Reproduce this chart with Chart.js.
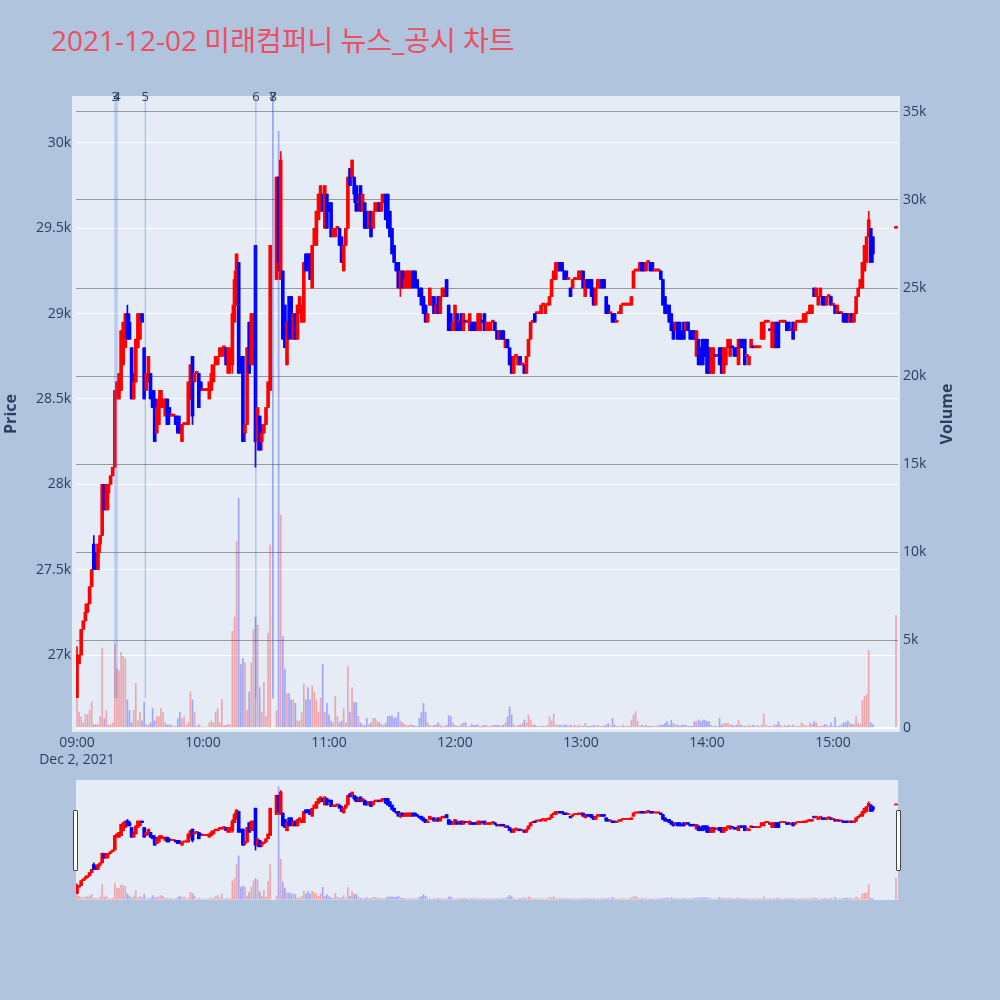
<!DOCTYPE html>
<html><head><meta charset="utf-8">
<script src="https://cdn.jsdelivr.net/npm/chart.js"></script>
<style>
html,body{margin:0;padding:0;background:#B0C4DE;width:1000px;height:1000px;overflow:hidden;font-family:"Open Sans","Noto Sans CJK KR",sans-serif;}
#title{position:absolute;left:51px;top:26px;font-size:28px;line-height:28px;color:rgb(236,78,98);white-space:nowrap;}
#main{position:absolute;left:0;top:0;}
#slider{position:absolute;left:76px;top:780px;background:#E5ECF6;}
.axt{position:absolute;width:120px;height:20px;line-height:20px;text-align:center;font-weight:bold;font-size:16px;color:#2a3f5f;transform:rotate(-90deg);}
.grab{position:absolute;width:3px;height:59px;background:#fff;border:1px solid #444;border-radius:1px;}
</style></head>
<body>
<div id="title">2021-12-02 미래컴퍼니 뉴스_공시 차트</div>
<canvas id="main" width="1000" height="770"></canvas>
<canvas id="slider" width="822" height="120"></canvas>
<div class="axt" style="left:-50px;top:404px;">Price</div>
<div class="axt" style="left:886px;top:404px;">Volume</div>
<div class="grab" style="left:73px;top:810px;"></div>
<div class="grab" style="left:896px;top:810px;"></div>
<script>
// ---- data: one entry per minute after 09:00 (index = minutes since 09:00) ----
const hourLabels = ['09:00','10:00','11:00','12:00','13:00','14:00','15:00'];
const dateLabel = 'Dec 2, 2021';
const priceTicks = [27000,27500,28000,28500,29000,29500,30000];
const volumeTicks = [0,5000,10000,15000,20000,25000,30000,35000];
const newsLabels = ['3','4','5','6','7','8'];
const newsMinutes = [18.2,19.0,32.5,85.2,93.2,93.4];

const opens = [
26750,26950,27000,27150,27200,27250,27300,27400,27650,27600,
27500,27650,27700,28000,27850,27950,28000,28050,28100,28500,
28500,28550,28700,28800,29000,28950,28800,28500,28600,28800,
28850,29000,28800,28550,28600,28650,28550,28500,28300,28350,
28450,28450,28400,28500,28450,28400,28400,28400,28400,28350,
28250,28350,28350,28350,28500,28750,28600,28650,28650,28600,
28550,28550,28550,28500,28550,28600,28700,28700,28750,28750,
28800,28800,28650,28700,28700,28950,29100,29300,28750,28750,
28300,28350,28950,28700,28700,29400,28250,28400,28250,28300,
28350,28450,28550,null,null,29200,29800,29200,29250,29050,
28700,29100,29100,28850,29000,28850,29000,28950,28950,29350,
29350,29350,29150,29400,29400,29550,29600,29700,29500,29700,
29650,29650,29450,29450,29500,29500,29450,29250,29400,29500,
29850,29800,29800,29750,29650,29750,29600,29650,29600,29500,
29600,29500,29600,29600,29650,29600,29650,29700,29700,29600,
29500,29400,29300,29300,29150,29250,29150,29150,29150,29150,
29250,29250,29200,29150,29150,29100,29050,28950,29050,29050,
29100,29000,29100,29000,29100,29100,29200,29050,29000,28900,
28900,29000,28950,29000,28900,28950,28950,28900,28950,28950,
28950,28900,28900,28950,29000,28900,28900,28900,28950,28950,
28900,28850,28900,28900,28800,28850,28800,28750,28650,28750,
28700,28750,28700,28700,28650,28750,28850,28950,29000,29000,
29000,29000,29050,29000,29050,29050,29100,29200,29200,29250,
29300,29300,29250,29250,29200,29150,29150,29200,29200,29200,
29200,29250,29100,29200,29200,29200,29150,29050,29150,29150,
29200,29200,29100,29050,29000,29000,29000,28950,29000,29000,
29050,29050,29050,29050,29050,29150,29250,29250,29250,29300,
29300,29250,29300,29300,29300,29250,29250,29250,29250,29200,
29100,29050,29050,29000,28950,28900,28950,28950,28900,28950,
28900,28950,28900,28900,28900,28750,28850,28800,28850,28850,
28850,28800,28650,28650,28750,28750,28800,28800,28650,28700,
28800,28750,28800,28800,28800,28700,28850,28850,28850,28750,
28700,28800,28800,28800,28800,28800,28850,28850,28950,28950,
28900,28800,28800,28950,28950,28950,28950,28950,28950,28950,
28900,28950,28900,28950,28950,28950,28950,28950,29000,29000,
29000,29150,29100,29050,29100,29100,29100,29050,29100,29100,
29050,29050,29000,29000,29000,29000,29000,29000,28950,29000,
28950,29000,29100,29150,29150,29250,29300,29450,29500,29450,
null,null,null,null,null,null,null,null,null,null,
29500];
const highs = [
27050,27000,27150,27200,27300,27300,27400,27500,27700,27600,
27650,27700,28000,28000,28000,28000,28050,28100,28550,28600,
28650,28900,28950,29000,29050,29000,28800,28650,28850,29000,
29000,29000,28800,28650,28750,28650,28550,28550,28500,28550,
28550,28500,28500,28500,28450,28400,28400,28400,28400,28400,
28350,28350,28350,28600,28700,28750,28650,28650,28650,28600,
28550,28550,28550,28600,28700,28700,28750,28750,28800,28800,
28800,28800,28800,28800,29050,29250,29350,29300,28750,28750,
28350,28800,28950,29000,29000,29400,28450,28400,28350,28350,
28450,28600,29400,null,null,29800,29800,29950,29250,29050,
28950,29100,29100,29000,29000,29050,29100,29050,29300,29350,
29350,29350,29400,29500,29600,29700,29750,29700,29750,29700,
29650,29650,29500,29500,29500,29500,29450,29400,29500,29800,
29850,29900,29800,29750,29700,29750,29700,29650,29600,29600,
29600,29600,29650,29650,29650,29700,29700,29700,29700,29600,
29500,29400,29300,29300,29250,29250,29250,29250,29250,29250,
29250,29250,29200,29150,29150,29100,29050,29000,29150,29100,
29100,29050,29100,29100,29150,29150,29200,29050,29000,28950,
29050,29000,28950,29000,29000,28950,28950,29000,28950,28950,
28950,29000,29000,28950,29000,28950,28950,28950,28950,28950,
28900,28900,28900,28900,28850,28850,28800,28750,28750,28750,
28750,28750,28700,28700,28750,28850,28950,28950,29000,29000,
29000,29050,29050,29050,29050,29100,29200,29250,29300,29300,
29300,29300,29250,29250,29200,29150,29200,29200,29200,29250,
29250,29250,29200,29200,29200,29200,29150,29150,29200,29200,
29200,29200,29100,29050,29000,29000,29000,28950,29000,29050,
29050,29050,29050,29050,29100,29250,29250,29250,29300,29300,
29300,29300,29300,29300,29300,29250,29250,29250,29250,29200,
29100,29050,29050,29000,28950,28950,28950,28950,28900,28950,
28950,28950,28900,28900,28900,28900,28850,28800,28850,28850,
28850,28800,28800,28800,28750,28750,28800,28800,28800,28800,
28850,28850,28800,28800,28800,28850,28850,28850,28850,28750,
28750,28850,28800,28800,28800,28800,28950,28950,28950,28950,
28900,28950,28950,28950,28950,28950,28950,28950,28950,28950,
28900,28950,28950,28950,28950,28950,29000,29000,29000,29050,
29050,29150,29150,29100,29150,29100,29100,29100,29100,29100,
29050,29050,29050,29000,29000,29000,29000,29000,29000,29000,
29000,29100,29150,29200,29300,29400,29450,29600,29500,29450,
null,null,null,null,null,null,null,null,null,null,
29500];
const lows = [
26750,26950,27000,27150,27200,27250,27300,27400,27500,27500,
27500,27600,27700,27850,27850,27850,28000,28050,28100,28500,
28500,28550,28700,28800,28850,28850,28500,28500,28600,28800,
28850,28950,28500,28550,28600,28500,28450,28250,28300,28350,
28450,28450,28400,28350,28350,28400,28400,28350,28300,28300,
28250,28350,28350,28350,28500,28350,28600,28650,28450,28550,
28550,28550,28550,28500,28550,28600,28700,28700,28750,28750,
28750,28700,28650,28650,28650,28950,29050,28650,28650,28250,
28250,28350,28650,28700,28700,28100,28200,28200,28200,28300,
28350,28450,28550,null,null,29200,29250,29200,28850,28800,
28700,28850,28850,28850,28850,28850,29000,28950,28950,29250,
29250,29200,29150,29400,29400,29550,29600,29600,29500,29500,
29600,29450,29450,29450,29500,29400,29300,29250,29400,29500,
29750,29800,29650,29600,29600,29600,29600,29500,29500,29500,
29450,29500,29600,29600,29600,29600,29650,29550,29500,29450,
29350,29300,29250,29150,29100,29150,29150,29150,29150,29150,
29150,29150,29150,29100,29050,29000,28950,28950,29050,29050,
29000,29000,29000,29000,29100,29100,29100,28900,28900,28900,
28900,28900,28900,28900,28900,28950,28950,28900,28900,28900,
28900,28900,28900,28950,28900,28900,28900,28900,28950,28900,
28850,28850,28850,28850,28800,28800,28700,28650,28650,28750,
28700,28700,28700,28650,28650,28750,28850,28950,28950,29000,
29000,29000,29050,29000,29050,29050,29100,29200,29200,29250,
29250,29250,29200,29200,29200,29100,29150,29200,29200,29200,
29200,29150,29100,29150,29150,29100,29050,29050,29150,29150,
29150,29150,29000,29000,29000,28950,28950,28950,29000,29000,
29050,29050,29050,29050,29050,29150,29250,29250,29250,29250,
29250,29250,29300,29250,29250,29250,29250,29250,29200,29050,
29000,29000,28950,28900,28850,28900,28850,28850,28850,28850,
28900,28900,28850,28850,28850,28750,28700,28700,28700,28750,
28650,28650,28650,28650,28750,28750,28700,28650,28650,28700,
28800,28750,28800,28750,28750,28700,28800,28800,28700,28750,
28700,28800,28800,28800,28800,28800,28850,28850,28950,28950,
28900,28800,28800,28800,28800,28950,28950,28950,28900,28900,
28900,28850,28900,28950,28950,28950,28950,28950,29000,29000,
29000,29100,29100,29050,29100,29050,29050,29050,29100,29050,
29050,29000,29000,29000,29000,28950,28950,28950,28950,28950,
28950,29000,29100,29150,29150,29250,29300,29450,29300,29300,
null,null,null,null,null,null,null,null,null,null,
29500];
const closes = [
27000,27000,27150,27200,27250,27300,27400,27500,27500,27500,
27650,27700,28000,27850,28000,28000,28050,28100,28550,28600,
28650,28900,28950,29000,28850,28850,28500,28600,28850,29000,
29000,28950,28500,28650,28750,28500,28450,28250,28450,28500,
28550,28500,28500,28350,28400,28400,28400,28350,28300,28300,
28350,28350,28350,28600,28700,28400,28650,28650,28450,28550,
28550,28550,28550,28600,28650,28700,28750,28750,28800,28800,
28800,28700,28800,28750,29000,29200,29350,28650,28700,28250,
28350,28800,28650,29000,29000,28250,28450,28200,28300,28350,
28450,28600,29400,null,null,29800,29300,29900,28850,28800,
28950,28850,28900,29000,28850,29050,29100,29050,29300,29250,
29300,29200,29400,29500,29600,29700,29750,29600,29750,29500,
29600,29450,29500,29500,29500,29400,29300,29400,29500,29800,
29750,29900,29700,29600,29650,29600,29700,29500,29500,29600,
29450,29600,29650,29650,29600,29650,29700,29550,29500,29450,
29350,29300,29250,29150,29250,29150,29200,29250,29250,29250,
29150,29200,29150,29100,29050,29000,28950,29000,29150,29100,
29000,29050,29000,29100,29150,29150,29100,28900,28900,28950,
29050,28900,28950,28900,29000,28950,28950,29000,28900,28900,
28900,29000,29000,28950,28900,28950,28950,28950,28950,28900,
28850,28900,28850,28850,28850,28800,28700,28650,28750,28750,
28750,28700,28700,28650,28750,28850,28950,28950,28950,29000,
29000,29050,29050,29050,29050,29100,29200,29250,29300,29300,
29250,29250,29200,29200,29200,29100,29200,29200,29200,29250,
29250,29150,29200,29150,29150,29100,29050,29150,29200,29200,
29150,29150,29000,29000,29000,28950,28950,28950,29000,29050,
29050,29050,29050,29050,29100,29250,29250,29250,29300,29250,
29250,29300,29300,29250,29250,29250,29250,29250,29200,29050,
29000,29000,28950,28900,28850,28950,28850,28850,28850,28850,
28950,28900,28850,28850,28850,28900,28700,28700,28700,28750,
28650,28650,28800,28800,28750,28750,28700,28650,28800,28800,
28850,28850,28800,28750,28750,28850,28800,28800,28700,28750,
28750,28850,28800,28800,28800,28800,28950,28950,28950,28950,
28900,28950,28950,28800,28800,28950,28950,28950,28900,28900,
28900,28850,28950,28950,28950,28950,29000,29000,29000,29050,
29050,29100,29150,29100,29150,29050,29050,29100,29100,29050,
29050,29000,29050,29000,29000,28950,28950,28950,29000,28950,
29000,29100,29150,29200,29300,29400,29450,29550,29300,29350,
null,null,null,null,null,null,null,null,null,null,
29500];
const volumes = [
1700,900,650,300,770,770,1000,1480,180,180,
200,650,4540,530,1000,180,180,300,4770,3360,
3250,4300,4070,3950,1600,1000,300,1000,2530,410,
890,410,1480,180,180,300,1120,410,650,650,
1120,890,300,180,180,180,60,100,530,890,
530,650,180,300,2060,1600,890,100,180,60,
50,50,60,300,400,300,900,1100,300,1600,
150,150,200,200,5500,6300,10600,13050,3600,3950,
3700,1000,2050,3700,5600,6300,5850,2300,900,2600,
650,5400,10400,null,null,1000,33900,12100,5200,3350,
1950,1950,1600,1600,1400,400,400,900,2500,1600,
2300,1600,2400,2050,1600,900,1700,3600,900,1400,
750,400,300,1800,650,300,400,1100,300,3500,
900,2300,1450,1450,660,300,200,150,550,200,
300,550,550,400,300,200,150,300,660,660,
700,550,600,900,400,300,200,150,150,200,
150,100,100,550,900,1400,900,300,150,100,
150,200,300,150,100,100,150,700,660,300,
150,100,100,200,300,300,100,100,200,150,
150,200,100,100,150,150,100,100,150,150,
150,170,100,170,300,640,1200,740,200,100,
150,170,260,450,300,740,450,170,170,100,
100,100,100,100,150,640,400,800,170,170,
170,100,170,170,100,170,100,170,100,170,
100,100,260,100,100,100,170,100,170,100,
100,100,170,260,100,550,170,100,100,100,
170,100,100,100,450,740,930,400,100,170,
100,170,100,100,100,100,100,170,170,170,
260,360,170,450,260,170,170,100,170,170,
170,100,100,100,360,360,450,360,450,450,
360,360,170,100,100,100,550,170,260,260,
260,170,170,100,170,450,170,100,100,100,
170,100,170,100,170,100,170,800,170,100,
100,100,170,170,360,170,100,170,100,170,
100,170,100,100,100,300,200,100,100,300,
200,370,300,100,100,100,200,200,100,300,
100,600,100,100,200,300,300,400,300,200,
200,650,300,200,1570,1780,1900,4400,300,200,
null,null,null,null,null,null,null,null,null,null,
6400];

// ---- styles ----
const FONT = '"Open Sans", "Noto Sans CJK KR", sans-serif';
const TXT = '#2a3f5f';
const UP = 'rgb(255,0,0)', DOWN = 'rgb(0,0,255)';
const UPV = 'rgba(255,0,0,0.3)', DOWNV = 'rgba(0,0,255,0.3)';
const newsColors = ['rgba(70,110,230,0.2)','rgba(70,110,230,0.2)','rgba(40,80,220,0.38)','rgba(40,80,220,0.38)','rgba(40,80,220,0.4)','rgba(40,80,220,0.4)'];
const newsWidths = [2.5,2.5,1,1,1,1];
const PRICE_RANGE = [26549, 30275];
const VOL_RANGE = [-227, 35909];
const X_RANGE = [-0.476, 390.95];

function isUp(i){
  const o = opens[i], c = closes[i];
  if (c > o) return true;
  if (c < o) return false;
  for (let j = i - 1; j >= 0; j--) if (closes[j] != null) return c >= closes[j];
  return true;
}
const bodyPts = [], wickPts = [], volPts = [], cCols = [], vCols = [];
for (let i = 0; i < opens.length; i++) {
  if (opens[i] == null) continue;
  const up = isUp(i);
  bodyPts.push({x: i, y: [opens[i], closes[i]]});
  wickPts.push({x: i, y: [lows[i], highs[i]]});
  volPts.push({x: i, y: volumes[i]});
  cCols.push(up ? UP : DOWN);
  vCols.push(up ? UPV : DOWNV);
}
function makeSets(bodyW, wickW, volW, minLen){
  return [
    {data: bodyPts, backgroundColor: cCols, barThickness: bodyW, minBarLength: minLen, grouped: false, yAxisID: 'y', order: 1},
    {data: wickPts, backgroundColor: cCols, barThickness: wickW, minBarLength: 1, grouped: false, yAxisID: 'y', order: 2},
    {data: volPts, backgroundColor: vCols, barThickness: volW, grouped: false, yAxisID: 'yv', order: 3}
  ];
}

const bgPlugin = {
  id: 'bg',
  beforeDraw(chart){
    const {ctx, chartArea: a} = chart;
    ctx.save();
    ctx.fillStyle = '#E5ECF6';
    ctx.fillRect(a.left - 4, a.top, a.right - a.left + 6, a.bottom - a.top);
    ctx.restore();
  }
};
const newsPlugin = {
  id: 'news',
  afterDatasetsDraw(chart){
    const {ctx, chartArea: a} = chart;
    const xs = chart.scales.x;
    ctx.save();
    newsMinutes.forEach((m, k) => {
      const px = xs.getPixelForValue(m);
      ctx.strokeStyle = newsColors[k];
      ctx.lineWidth = newsWidths[k];
      ctx.beginPath();
      ctx.moveTo(px, a.top);
      ctx.lineTo(px, a.bottom - 0.053 * (a.bottom - a.top));
      ctx.stroke();
    });
    ctx.fillStyle = TXT;
    ctx.font = '13px ' + FONT;
    ctx.textAlign = 'center';
    ctx.textBaseline = 'middle';
    newsMinutes.forEach((m, k) => ctx.fillText(newsLabels[k], xs.getPixelForValue(m), a.top + 1));
    ctx.restore();
  }
};

const tickFont = {family: FONT, size: 14};
new Chart(document.getElementById('main'), {
  type: 'bar',
  data: {datasets: makeSets(3, 1, 1, 2)},
  options: {
    responsive: false, animation: false, devicePixelRatio: 1,
    layout: {padding: {top: 96, left: 0, right: 0, bottom: 0}},
    plugins: {legend: {display: false}, tooltip: {enabled: false}},
    scales: {
      x: {
        type: 'linear', min: X_RANGE[0], max: X_RANGE[1], offset: false,
        grid: {display: false, drawTicks: false, offset: false}, border: {display: false},
        afterBuildTicks: s => { s.ticks = hourLabels.map((_, k) => ({value: k * 60})); },
        ticks: {
          autoSkip: false, maxRotation: 0, padding: 3, color: TXT, font: tickFont,
          callback: (v, idx) => idx === 0 ? [hourLabels[0], dateLabel] : hourLabels[idx]
        },
        afterFit: s => { s.height = 38; }
      },
      y: {
        type: 'linear', position: 'left', min: PRICE_RANGE[0], max: PRICE_RANGE[1],
        afterBuildTicks: s => { s.ticks = priceTicks.map(v => ({value: v})); },
        ticks: {padding: 5, color: TXT, font: tickFont, callback: v => (v / 1000) + 'k'},
        grid: {color: '#ffffff', lineWidth: 1, drawTicks: false}, border: {display: false},
        afterFit: s => { s.width = 76; }
      },
      yv: {
        type: 'linear', position: 'right', min: VOL_RANGE[0], max: VOL_RANGE[1],
        afterBuildTicks: s => { s.ticks = volumeTicks.map(v => ({value: v})); },
        ticks: {padding: 5, color: TXT, font: tickFont, callback: v => v === 0 ? '0' : (v / 1000) + 'k'},
        grid: {
          color: c => (c.tick && c.tick.value === 0) ? '#ffffff' : '#999999',
          lineWidth: c => (c.tick && c.tick.value === 0) ? 2 : 1,
          drawTicks: false
        },
        border: {display: false},
        afterFit: s => { s.width = 102; }
      }
    }
  },
  plugins: [bgPlugin, newsPlugin]
});

new Chart(document.getElementById('slider'), {
  type: 'bar',
  data: {datasets: makeSets(3, 1, 1, 1)},
  options: {
    responsive: false, animation: false, devicePixelRatio: 1,
    layout: {padding: 0},
    plugins: {legend: {display: false}, tooltip: {enabled: false}},
    scales: {
      x: {type: 'linear', display: false, offset: false, min: X_RANGE[0], max: X_RANGE[1]},
      y: {type: 'linear', display: false, min: PRICE_RANGE[0], max: PRICE_RANGE[1]},
      yv: {type: 'linear', display: false, min: VOL_RANGE[0], max: VOL_RANGE[1]}
    }
  }
});
</script>
</body></html>
